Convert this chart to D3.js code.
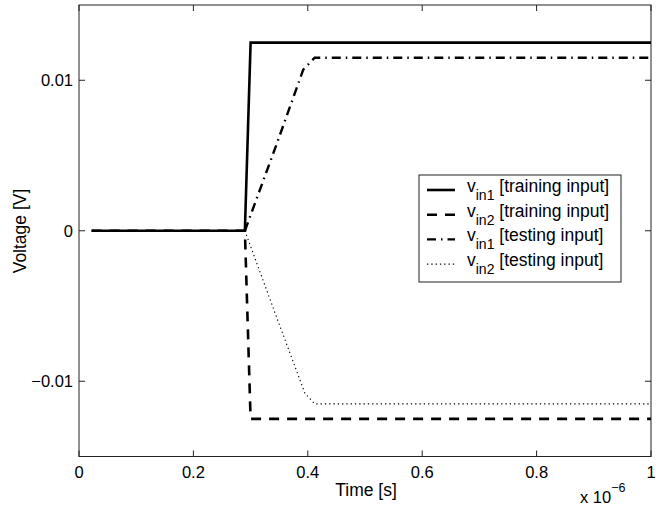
<!DOCTYPE html>
<html><head><meta charset="utf-8">
<script src="https://cdn.jsdelivr.net/npm/d3@7"></script>
<style>body{margin:0;background:#fff}svg{display:block}text{font-family:"Liberation Sans",Arial,sans-serif;fill:#000}</style>
</head><body><svg id="c" width="656" height="510"></svg>
<script>
// Data (time in units of 1e-6 s, voltage in V)
const trainVin1 = [[0.022,0],[0.29,0],[0.30,0.0125],[1,0.0125]];
const trainVin2 = [[0.022,0],[0.29,0],[0.30,-0.0125],[1,-0.0125]];
const testVin1 = [[0.29,0],[0.345,0.0057],[0.392,0.0107],[0.412,0.0115],[1,0.0115]];
const testVin2 = [[0.29,0],[0.345,-0.0057],[0.395,-0.0108],[0.412,-0.0115],[1,-0.0115]];
const xTicks = [0,0.2,0.4,0.6,0.8,1];
const xTickLabels = ["0","0.2","0.4","0.6","0.8","1"];
const yTicks = [-0.01,0,0.01];
const yTickLabels = ["\u22120.01","0","0.01"];
const legendLabels = [["in1","[training input]"],["in2","[training input]"],["in1","[testing input]"],["in2","[testing input]"]];

const svg = d3.select("#c");
const L=79,R=651,T=5,B=456.5;
const x = d3.scaleLinear().domain([0,1]).range([L,R]);
const y = d3.scaleLinear().domain([-0.015,0.015]).range([B,T]);

const styles = [
  {w:2.6,dash:null},
  {w:2.6,dash:"10,8"},
  {w:2.4,dash:"9,5,1.5,5"},
  {w:1.1,dash:"1.3,3"}
];
const series=[trainVin1,trainVin2,testVin1,testVin2];
const line = d3.line().x(d=>x(d[0])).y(d=>y(d[1]));

// frame
svg.append("rect").attr("x",L).attr("y",T).attr("width",R-L).attr("height",B-T)
  .attr("fill","none").attr("stroke","#222").attr("stroke-width",1);

// ticks
const tk=6;
const g=svg.append("g").attr("stroke","#222").attr("stroke-width",1);
xTicks.forEach(v=>{
  g.append("line").attr("x1",x(v)).attr("x2",x(v)).attr("y1",B).attr("y2",B-tk);
  g.append("line").attr("x1",x(v)).attr("x2",x(v)).attr("y1",T).attr("y2",T+tk);
});
yTicks.forEach(v=>{
  g.append("line").attr("x1",L).attr("x2",L+tk).attr("y1",y(v)).attr("y2",y(v));
  g.append("line").attr("x1",R).attr("x2",R-tk).attr("y1",y(v)).attr("y2",y(v));
});
xTicks.forEach((v,i)=>{
  svg.append("text").attr("x",x(v)).attr("y",B+21).attr("text-anchor","middle")
    .attr("font-size",16.5).text(xTickLabels[i]);
});
yTicks.forEach((v,i)=>{
  svg.append("text").attr("x",L-6).attr("y",y(v)+6).attr("text-anchor","end")
    .attr("font-size",16.5).text(yTickLabels[i]);
});

// series
series.forEach((s,i)=>{
  svg.append("path").attr("d",line(s)).attr("fill","none").attr("stroke","#000")
    .attr("stroke-width",styles[i].w).attr("stroke-dasharray",styles[i].dash)
    .attr("stroke-linejoin","miter");
});

// axis labels
svg.append("text").attr("x",366).attr("y",496).attr("text-anchor","middle")
  .attr("font-size",17.5).text("Time [s]");
svg.append("text").attr("transform",`translate(26,${231}) rotate(-90)`)
  .attr("text-anchor","middle").attr("font-size",17.5).text("Voltage [V]");
const ex=svg.append("text").attr("x",580).attr("y",503).attr("font-size",16.5);
ex.append("tspan").text("x 10");
ex.append("tspan").attr("dy",-11).attr("font-size",12.5).text("\u22126");

// legend
const lg=svg.append("g");
lg.append("rect").attr("x",419).attr("y",175).attr("width",202).attr("height",107)
  .attr("fill","#fff").attr("stroke","#222").attr("stroke-width",1);
legendLabels.forEach((lab,i)=>{
  const by=192+i*24.7;
  lg.append("line").attr("x1",427).attr("x2",455).attr("y1",by-2).attr("y2",by-2)
    .attr("stroke","#000").attr("stroke-width",styles[i].w).attr("stroke-dasharray",styles[i].dash);
  const t=lg.append("text").attr("x",467).attr("y",by).attr("font-size",17.5);
  t.append("tspan").text("v");
  t.append("tspan").attr("dy",8).attr("font-size",14).text(lab[0]);
  t.append("tspan").attr("dy",-8).text(" "+lab[1]);
});
</script></body></html>
